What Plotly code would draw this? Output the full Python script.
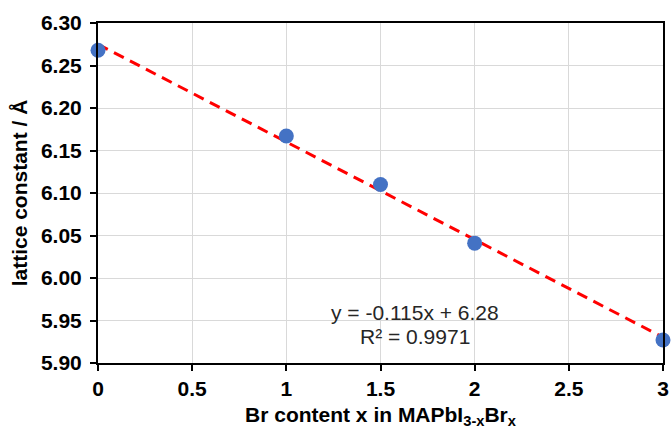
import numpy as np
import plotly.graph_objects as go

br_content = [0, 1, 1.5, 2, 3]
lattice_constant = [6.268, 6.167, 6.110, 6.041, 5.927]
x_tick_vals = [0, 0.5, 1, 1.5, 2, 2.5, 3]
x_tick_text = ["0", "0.5", "1", "1.5", "2", "2.5", "3"]
eq_text = "y = -0.115x + 6.28"
r2_text = "R² = 0.9971"

slope, intercept = np.polyfit(br_content, lattice_constant, 1)
fit_x = [0, 3]
fit_y = [slope * v + intercept for v in fit_x]

font_family = "Liberation Sans, Arial, sans-serif"

fig = go.Figure()
fig.add_trace(go.Scatter(x=fit_x, y=fit_y, mode="lines",
                         line=dict(color="#FF0000", width=3, dash="11px,7px"),
                         showlegend=False, hoverinfo="skip", cliponaxis=False))
fig.add_trace(go.Scatter(x=br_content, y=lattice_constant, mode="markers",
                         marker=dict(color="#4472C4", size=15),
                         showlegend=False, cliponaxis=False))

fig.add_annotation(x=1.684, y=5.96, xref="x", yref="y", text=eq_text,
                   showarrow=False, font=dict(family=font_family, size=21, color="#262626"))
fig.add_annotation(x=1.684, y=5.931, xref="x", yref="y", text=r2_text,
                   showarrow=False, font=dict(family=font_family, size=21, color="#262626"))

fig.update_layout(
    width=671, height=430,
    margin=dict(l=98, r=2, t=23, b=67),
    paper_bgcolor="white", plot_bgcolor="white",
    font=dict(family=font_family, color="black"),
    xaxis=dict(range=[0, 3], tickvals=x_tick_vals, ticktext=x_tick_text,
               showgrid=True, gridcolor="#d9d9d9", gridwidth=1.2,
               showline=True, linecolor="black", linewidth=2, mirror=True,
               ticks="outside", ticklen=6, tickwidth=2, tickcolor="black",
               ticklabeloverflow="allow",
               tickfont=dict(size=21, family=font_family, color="black", weight="bold"),
               title=dict(text="<b>Br content x in MAPbI<sub>3-x</sub>Br<sub>x</sub></b>",
                          font=dict(size=21, family=font_family, color="black"), standoff=8),
               zeroline=False),
    yaxis=dict(range=[5.90, 6.30], dtick=0.05, tickformat=".2f",
               showgrid=True, gridcolor="#d9d9d9", gridwidth=1.2,
               showline=True, linecolor="black", linewidth=2, mirror=True,
               ticks="outside", ticklen=6, tickwidth=2, tickcolor="black",
               ticklabelstandoff=4,
               tickfont=dict(size=21, family=font_family, color="black", weight="bold"),
               title=dict(text="<b>lattice constant / Å</b>",
                          font=dict(size=21, family=font_family, color="black"), standoff=8),
               zeroline=False),
)

fig.write_html("out.html")
